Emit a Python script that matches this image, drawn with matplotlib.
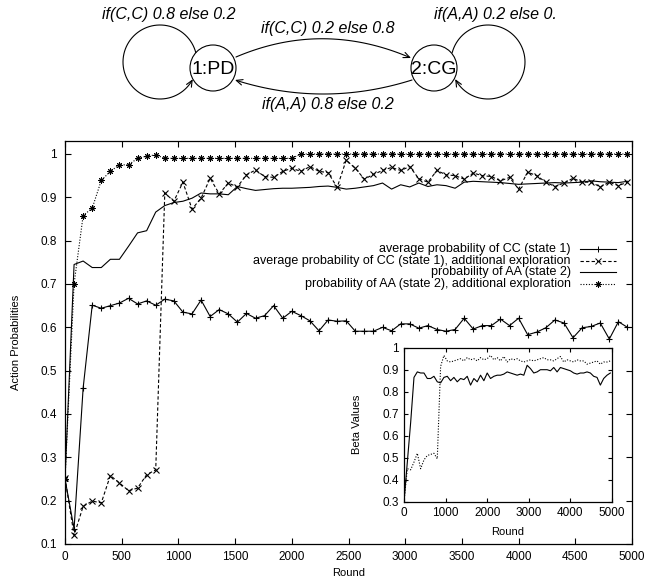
import numpy as np
import matplotlib.pyplot as plt
from matplotlib.lines import Line2D
from matplotlib.patches import Circle, FancyArrowPatch
from matplotlib.path import Path

plt.rcParams['font.family'] = ['Liberation Sans', 'DejaVu Sans']

# sample rounds (every 80 rounds)
rounds = list(range(0, 5000, 80))

cc_state1 = [0.25, 0.135, 0.46, 0.651, 0.644, 0.650, 0.656, 0.667, 0.654, 0.661,
             0.651, 0.665, 0.661, 0.635, 0.631, 0.663, 0.625, 0.641, 0.631, 0.612,
             0.632, 0.621, 0.627, 0.650, 0.621, 0.637, 0.627, 0.615, 0.592, 0.617,
             0.614, 0.615, 0.591, 0.591, 0.591, 0.600, 0.592, 0.608, 0.608, 0.598,
             0.604, 0.595, 0.591, 0.595, 0.621, 0.596, 0.604, 0.604, 0.619, 0.604,
             0.621, 0.583, 0.589, 0.599, 0.617, 0.610, 0.576, 0.599, 0.602, 0.610,
             0.573, 0.613, 0.600]

cc_explore = [0.252, 0.12, 0.187, 0.199, 0.195, 0.258, 0.241, 0.223, 0.229, 0.260,
              0.271, 0.910, 0.891, 0.935, 0.873, 0.898, 0.944, 0.908, 0.933, 0.924,
              0.952, 0.963, 0.948, 0.946, 0.960, 0.967, 0.960, 0.971, 0.960, 0.957,
              0.923, 0.986, 0.967, 0.942, 0.953, 0.962, 0.969, 0.962, 0.971, 0.943,
              0.935, 0.962, 0.952, 0.950, 0.942, 0.956, 0.950, 0.948, 0.938, 0.946,
              0.919, 0.958, 0.950, 0.935, 0.925, 0.933, 0.944, 0.935, 0.935, 0.924,
              0.935, 0.927, 0.935]

aa_state2 = [0.25, 0.745, 0.753, 0.738, 0.738, 0.757, 0.757, 0.787, 0.818, 0.823,
             0.866, 0.881, 0.888, 0.891, 0.898, 0.910, 0.908, 0.908, 0.906, 0.925,
             0.920, 0.916, 0.918, 0.920, 0.921, 0.921, 0.922, 0.923, 0.925, 0.926,
             0.923, 0.919, 0.921, 0.924, 0.927, 0.933, 0.919, 0.929, 0.924, 0.933,
             0.925, 0.929, 0.927, 0.921, 0.935, 0.937, 0.936, 0.935, 0.934, 0.932,
             0.930, 0.931, 0.932, 0.933, 0.934, 0.933, 0.934, 0.935, 0.938, 0.936,
             0.935, 0.934, 0.937]

aa_explore = [0.25, 0.70, 0.858, 0.875, 0.939, 0.960, 0.975, 0.975, 0.990, 0.995,
              0.998, 0.990, 0.990, 0.990, 0.990, 0.990, 0.990, 0.990, 0.990, 0.990,
              0.990, 0.990, 0.990, 0.990, 0.990, 0.990, 1.0, 1.0, 1.0, 1.0,
              1.0, 1.0, 1.0, 1.0, 1.0, 1.0, 1.0, 1.0, 1.0, 1.0,
              1.0, 1.0, 1.0, 1.0, 1.0, 1.0, 1.0, 1.0, 1.0, 1.0,
              1.0, 1.0, 1.0, 1.0, 1.0, 1.0, 1.0, 1.0, 1.0, 1.0,
              1.0, 1.0, 1.0]

beta_state1 = [0.30, 0.48, 0.66, 0.865, 0.89, 0.885, 0.885, 0.86, 0.86, 0.87,
               0.845, 0.84, 0.865, 0.87, 0.85, 0.865, 0.845, 0.86, 0.855, 0.87,
               0.83, 0.86, 0.845, 0.875, 0.85, 0.885, 0.86, 0.87, 0.875, 0.875,
               0.88, 0.89, 0.885, 0.88, 0.875, 0.88, 0.875, 0.92, 0.905, 0.885,
               0.89, 0.90, 0.90, 0.90, 0.895, 0.91, 0.89, 0.91, 0.905, 0.90,
               0.895, 0.885, 0.88, 0.885, 0.885, 0.89, 0.885, 0.87, 0.865, 0.83,
               0.86, 0.875, 0.885]

beta_explore = [0.30, 0.45, 0.445, 0.48, 0.52, 0.45, 0.49, 0.51, 0.515, 0.52,
                0.495, 0.915, 0.965, 0.94, 0.935, 0.94, 0.945, 0.95, 0.94, 0.955,
                0.945, 0.95, 0.94, 0.955, 0.945, 0.95, 0.965, 0.945, 0.955, 0.94,
                0.96, 0.935, 0.95, 0.945, 0.95, 0.94, 0.935, 0.94, 0.945, 0.94,
                0.945, 0.95, 0.955, 0.945, 0.945, 0.94, 0.95, 0.96, 0.935, 0.945,
                0.94, 0.935, 0.945, 0.94, 0.94, 0.925, 0.93, 0.935, 0.94, 0.925,
                0.935, 0.935, 0.94]

labels = ['average probability of CC (state 1)',
          'average probability of CC (state 1), additional exploration',
          'probability of AA (state 2)',
          'probability of AA (state 2), additional exploration']

star = (8, 2, 0)
dash = (0, (3, 2))
dots = (0, (1, 1.5))
fs_tick = 8.5
fs_lab = 8
fs_leg = 9

fig = plt.figure(figsize=(6.48, 5.8), dpi=100)

# ---- state diagram on top (pixel coordinates) ----
dg = fig.add_axes([0, 0, 1, 1])
dg.set_xlim(0, 648)
dg.set_ylim(580, 0)
dg.axis('off')

nodes = {'1:PD': (213, 68), '2:CG': (434, 68)}
for name, (cx, cy) in nodes.items():
    dg.add_patch(Circle((cx, cy), 23, fill=False, lw=0.8, color='k'))
    dg.text(cx, cy + 1, name, fontsize=14, ha='center', va='center')


def add_arrow(pts):
    arr = FancyArrowPatch(path=Path(pts), arrowstyle='->,head_length=0.45,head_width=0.2',
                          mutation_scale=10, lw=0.8, color='k')
    dg.add_patch(arr)


# self loops
t = np.radians(np.linspace(-14.7, -332.3, 80))
add_arrow(np.column_stack([160 + 37 * np.cos(t), 62 + 37 * np.sin(t)]))
t = np.radians(np.linspace(194.9, 512.5, 80))
add_arrow(np.column_stack([488 + 37 * np.cos(t), 62 + 37 * np.sin(t)]))

# arcs between the nodes
s = np.linspace(0, 1, 60)[:, None]
p0, c, p2 = np.array([236, 57]), np.array([323, 20]), np.array([411, 58])
add_arrow((1 - s) ** 2 * p0 + 2 * s * (1 - s) * c + s ** 2 * p2)
p0, c, p2 = np.array([412, 80]), np.array([323, 108]), np.array([235, 80])
add_arrow((1 - s) ** 2 * p0 + 2 * s * (1 - s) * c + s ** 2 * p2)

dg.text(169, 15, 'if(C,C) 0.8 else 0.2', fontsize=11.5, style='italic', ha='center', va='center')
dg.text(328, 28, 'if(C,C) 0.2 else 0.8', fontsize=11.5, style='italic', ha='center', va='center')
dg.text(434, 15, 'if(A,A) 0.2 else 0.', fontsize=11.5, style='italic', ha='left', va='center')
dg.text(328, 104, 'if(A,A) 0.8 else 0.2', fontsize=11.5, style='italic', ha='center', va='center')

# ---- main plot ----
ax = fig.add_axes([65 / 648, 1 - 544 / 580, 567 / 648, 403 / 580])
ax.set_facecolor('none')
ax.plot(rounds, cc_state1, color='k', lw=0.8, marker='+', ms=5, mew=0.8)
ax.plot(rounds, cc_explore, color='k', ls=dash, lw=0.8, marker='x', ms=4.5, mew=0.8)
ax.plot(rounds, aa_state2, color='k', lw=0.8)
ax.plot(rounds, aa_explore, color='k', ls=dots, lw=0.8, marker=star, ms=4.5, mew=0.7)

ax.set_xlim(0, 5000)
ax.set_ylim(0.1, 1.03)
ax.set_xticks(range(0, 5001, 500))
ax.set_yticks(np.arange(0.1, 1.01, 0.1))
ax.set_yticklabels(['0.1', '0.2', '0.3', '0.4', '0.5', '0.6', '0.7', '0.8', '0.9', '1'])
ax.tick_params(direction='in', top=True, right=True, length=4, width=0.8, labelsize=fs_tick)
ax.tick_params(axis='y', pad=6)
ax.tick_params(axis='x', pad=5)
for sp in ax.spines.values():
    sp.set_linewidth(0.9)
ax.set_xlabel('Round', fontsize=fs_lab, labelpad=4)
ax.set_ylabel('Action Probabilities', fontsize=fs_lab, labelpad=14)

# legend, gnuplot style: text right aligned, sample on the right
styles = [dict(ls='-', marker='+', ms=5),
          dict(ls=dash, marker='x', ms=4.5),
          dict(ls='-', marker=None),
          dict(ls=dots, marker=star, ms=4.5)]
rows = [0.732, 0.703, 0.675, 0.646]
for lab, st, yy in zip(labels, styles, rows):
    ax.text(0.892, yy, lab, transform=ax.transAxes, ha='right', va='center', fontsize=fs_leg)
    ax.add_line(Line2D([0.908, 0.972], [yy, yy], transform=ax.transAxes, color='k',
                       lw=0.8, ls=st['ls']))
    if st['marker']:
        ax.add_line(Line2D([0.94], [yy], transform=ax.transAxes, color='k', ls='none',
                           marker=st['marker'], ms=st['ms'], mew=0.7))

# ---- inset ----
ins = fig.add_axes([404 / 648, 1 - 501.7 / 580, 208 / 648, 154 / 580])
ins.set_facecolor('white')
ins.plot(rounds, beta_state1, color='k', lw=0.8)
ins.plot(rounds, beta_explore, color='k', ls=dots, lw=0.8)
ins.set_xlim(0, 5000)
ins.set_ylim(0.3, 1.0)
ins.set_xticks(range(0, 5001, 1000))
ins.set_yticks(np.arange(0.3, 1.01, 0.1))
ins.set_yticklabels(['0.3', '0.4', '0.5', '0.6', '0.7', '0.8', '0.9', '1'])
ins.tick_params(direction='in', top=True, right=True, length=3, width=0.8, labelsize=fs_tick)
for sp in ins.spines.values():
    sp.set_linewidth(0.9)
ins.set_xlabel('Round', fontsize=fs_lab, labelpad=6)
ins.set_ylabel('Beta Values', fontsize=fs_lab, labelpad=15)

fig.savefig('out.png', dpi=100)
